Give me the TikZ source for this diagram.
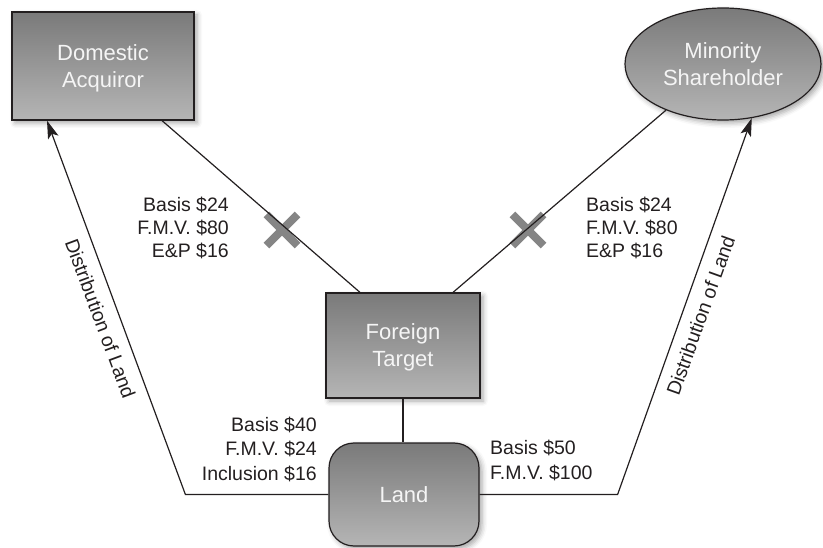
\documentclass[tikz,border=0pt]{standalone}
\usepackage{fontspec}
\setmainfont{Liberation Sans}
\usetikzlibrary{shapes.geometric,shadows.blur,arrows.meta,calc}
\definecolor{topg}{HTML}{7A7A7A}
\definecolor{botg}{HTML}{B5B5B5}
\definecolor{lineC}{HTML}{231F20}
\definecolor{xC}{HTML}{858585}
\definecolor{txtC}{HTML}{F5F5F5}
\begin{document}
\begin{tikzpicture}[x=1pt,y=-1pt,
  ent/.style={draw=lineC, line width=1.2pt, top color=topg, bottom color=botg,
    text=txtC, font=\fontsize{22}{27}\selectfont, align=center, inner sep=0pt, text depth=0pt,
    blur shadow={shadow xshift=3pt, shadow yshift=-3pt, shadow blur radius=5pt, shadow opacity=35}},
  lblT/.style={font=\fontsize{19.5}{23}\selectfont, text=lineC, inner sep=0pt},
  lblB/.style={font=\fontsize{19.5}{24.5}\selectfont, text=lineC, inner sep=0pt},
  conn/.style={line width=1.2pt, draw=lineC},
  arr/.style={conn, -{Stealth[length=18pt,width=11pt,inset=4pt]}},
  xmark/.style={line width=8pt, draw=xC}
]
\useasboundingbox (0,0) rectangle (823,548);

% entities
\node[ent, minimum width=182pt, minimum height=108pt] (DA) at (103,66) {Domestic\\Acquiror};
\node[ent, ellipse, minimum width=196pt, minimum height=112pt] (MS) at (723,64) {Minority\\Shareholder};
\node[ent, minimum width=154pt, minimum height=105pt] (FT) at (403,345.5) {Foreign\\Target};
\node[ent, rounded corners=25pt, minimum width=150pt, minimum height=103pt] (Land) at (404,494.5) {Land};

% crossed-out marks
\coordinate (X1) at (282,230);
\coordinate (X2) at (528,230);
\draw[xmark] ($(X1)+(-15.6,-15.6)$) -- ($(X1)+(15.6,15.6)$) ($(X1)+(-15.6,15.6)$) -- ($(X1)+(15.6,-15.6)$);
\draw[xmark] ($(X2)+(-15.6,-15.6)$) -- ($(X2)+(15.6,15.6)$) ($(X2)+(-15.6,15.6)$) -- ($(X2)+(15.6,-15.6)$);

% ownership lines
\draw[conn] ([xshift=59pt]DA.south) -- ([xshift=-43pt]FT.north);
\draw[conn] ([xshift=50pt]FT.north) -- (MS.219);
\draw[conn] (FT.south) -- (FT.south |- Land.north);

% distribution arrows
\path (Land.west) ++(-143,0) coordinate (LB);
\path (Land.east) ++(138,0) coordinate (RB);
\draw[arr] (Land.west) -- (LB) -- ([xshift=-56pt]DA.south);
\draw[arr] (Land.east) -- (RB) -- (MS.298);

% labels
\node[lblT, align=right, anchor=base east] (l1) at (229,258) {Basis \$24\\F.M.V. \$80\\E\&P \$16};
\node[lblT, align=left, anchor=base west] (r1) at (586,258) {Basis \$24\\F.M.V. \$80\\E\&P \$16};
\node[lblB, align=right, anchor=base east] (l2) at (317,480) {Basis \$40\\F.M.V. \$24\\Inclusion \$16};
\node[lblB, align=left, anchor=base west] (r2) at (490,479) {Basis \$50\\F.M.V. \$100};

\node[lblT, rotate=-69.6] (dl) at (100.4,318.5) {Distribution of Land};
\node[lblT, rotate=70.3] (dr) at (700.6,315.5) {Distribution of Land};
\end{tikzpicture}
\end{document}
